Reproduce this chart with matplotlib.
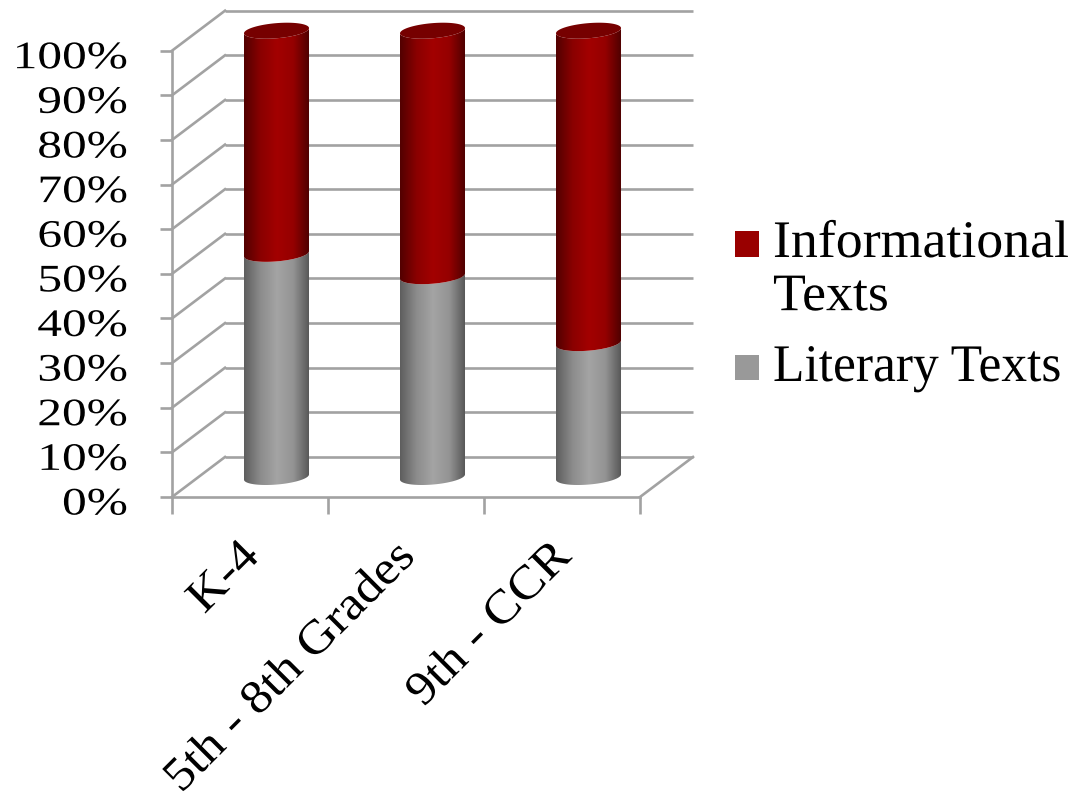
import numpy as np
import matplotlib
matplotlib.use("Agg")
import matplotlib.pyplot as plt
import matplotlib.patheffects as pe
from matplotlib.colors import LinearSegmentedColormap
from matplotlib.patches import Polygon, Rectangle
from matplotlib.transforms import Affine2D

categories = ["K-4", "5th - 8th Grades", "9th - CCR"]
literary = [50, 45, 30]
informational = [50, 55, 70]
y_ticks = [0, 10, 20, 30, 40, 50, 60, 70, 80, 90, 100]
legend_labels = ["Informational\nTexts", "Literary Texts"]

W, H = 1070, 806
GRID = "#a2a2a2"
LW = 1.9
RED_STOPS = ["#520000", "#8a0000", "#a30000", "#950000", "#4c0000"]
GREY_STOPS = ["#5e5e5e", "#8c8c8c", "#a4a4a4", "#949494", "#555555"]
RED_TOP = "#760000"

plt.rcParams["font.family"] = ["Liberation Serif", "DejaVu Serif"]


class Widen(pe.AbstractPathEffect):
    """Stretch glyphs along the text direction about one end of the line."""

    def __init__(self, factor, anchor=0.0):
        super().__init__()
        self.factor = factor
        self.anchor = anchor

    def draw_path(self, renderer, gc, tpath, affine, rgbFace=None):
        pivot = tpath.get_extents().x1 * self.anchor
        stretch = Affine2D().translate(-pivot, 0).scale(self.factor, 1).translate(pivot, 0)
        renderer.draw_path(gc, tpath, stretch + affine, rgbFace)


fig = plt.figure(figsize=(W / 100, H / 100), dpi=100, facecolor="white")

# Front plane of the box: 172..640 px across, 497..50.7 px down.
left, right, bottom, top = 172, 640, 497, 50.7
ax = fig.add_axes([left / W, 1 - bottom / H, (right - left) / W, (bottom - top) / H])
ax.patch.set_visible(False)

n = len(categories)
# One unit of depth, expressed in data units, gives the oblique box offset.
depth_x = 53 / ((right - left) / n)
depth_y = 40 / ((bottom - top) / 100)

# Back wall and left side wall.
for v in y_ticks:
    ax.plot([depth_x, n + depth_x], [v + depth_y, v + depth_y], color=GRID, lw=LW,
            clip_on=False, zorder=1, solid_capstyle="butt")
    ax.plot([0, depth_x], [v, v + depth_y], color=GRID, lw=LW, clip_on=False, zorder=1)
# Right edge of the floor.
ax.plot([n, n + depth_x], [0, depth_y], color=GRID, lw=LW, clip_on=False, zorder=1)

RX, RD = 0.197, 0.40


def section(center, level, t):
    """Points on the cylinder's circular section at a given height."""
    xs = center + 0.5 * depth_x + RX * np.cos(t) + 0.5 * RD * depth_x * np.sin(t)
    ys = level + 0.5 * depth_y + 0.5 * RD * depth_y * np.sin(t)
    return xs, ys


def draw_segment(center, low, high, stops, z):
    start = np.arctan2(0.5 * RD * depth_x, RX)
    arc = np.linspace(start + np.pi, start + 2 * np.pi, 60)
    x_low, y_low = section(center, low, arc)
    x_high, y_high = section(center, high, arc)
    outline = np.column_stack([np.r_[x_low, x_high[::-1]], np.r_[y_low, y_high[::-1]]])
    clip = Polygon(outline, closed=True, transform=ax.transData, fc="none", ec="none")
    ax.add_patch(clip)
    cmap = LinearSegmentedColormap.from_list("shade", stops)
    img = ax.imshow(np.linspace(0, 1, 128)[None, :], cmap=cmap, aspect="auto",
                    extent=[x_low.min(), x_low.max(), low, high + 2 * depth_y],
                    origin="lower", interpolation="bilinear", zorder=z)
    img.set_clip_box(fig.bbox)
    img.set_clip_path(clip)


for i, (lit, inf) in enumerate(zip(literary, informational)):
    c = i + 0.5
    draw_segment(c, 0, lit, GREY_STOPS, 3)
    draw_segment(c, lit, lit + inf, RED_STOPS, 4)
    xs, ys = section(c, lit + inf, np.linspace(0, 2 * np.pi, 120))
    ax.fill(xs, ys, color=RED_TOP, lw=0, zorder=5, clip_on=False)

ax.set_xlim(0, n)
ax.set_ylim(0, 100)

for side in ("top", "right"):
    ax.spines[side].set_visible(False)
for side in ("left", "bottom"):
    ax.spines[side].set_color(GRID)
    ax.spines[side].set_linewidth(LW)

ax.set_yticks(y_ticks)
ax.set_yticklabels([f"{v}%" for v in y_ticks], fontsize=28)
ax.tick_params(axis="y", length=9, width=LW, color=GRID, pad=23)
for tick in ax.yaxis.get_major_ticks():
    lab = tick.label1
    lab.set_path_effects([Widen(1.27, 1.0)])
    lab.set_verticalalignment("center")
    lab.set_transform(lab.get_transform() + Affine2D().translate(0, -8))

ax.set_xticks(range(n + 1))
ax.set_xticklabels([])
ax.tick_params(axis="x", which="major", length=12, width=LW, color=GRID)
ax.set_xticks(np.arange(n) + 0.5, minor=True)
ax.set_xticklabels(categories, minor=True, fontsize=34, rotation=45, ha="right",
                   va="top", rotation_mode="anchor")
ax.tick_params(axis="x", which="minor", length=0, pad=36)
for tick in ax.xaxis.get_minor_ticks():
    lab = tick.label1
    lab.set_path_effects([Widen(1.09, 1.0)])
    lab.set_transform(lab.get_transform() + Affine2D().translate(-12, 12))

# Legend swatches and labels placed on the figure.
swatches = [("#990000", 231, 257), ("#999999", 355, 380)]
widths = [1.02, 0.975]
for (color, y0, y1), label, y_text, wf in zip(swatches, legend_labels, [220, 344], widths):
    fig.add_artist(Rectangle((735 / W, 1 - y1 / H), 24 / W, (y1 - y0) / H,
                             transform=fig.transFigure, fc=color, ec="none"))
    t = fig.text(773 / W, 1 - y_text / H, label, fontsize=38, va="top", ha="left",
                 linespacing=1.14, color="black")
    t.set_path_effects([Widen(wf, 0.0)])

fig.savefig("out.png", dpi=100, facecolor="white")
